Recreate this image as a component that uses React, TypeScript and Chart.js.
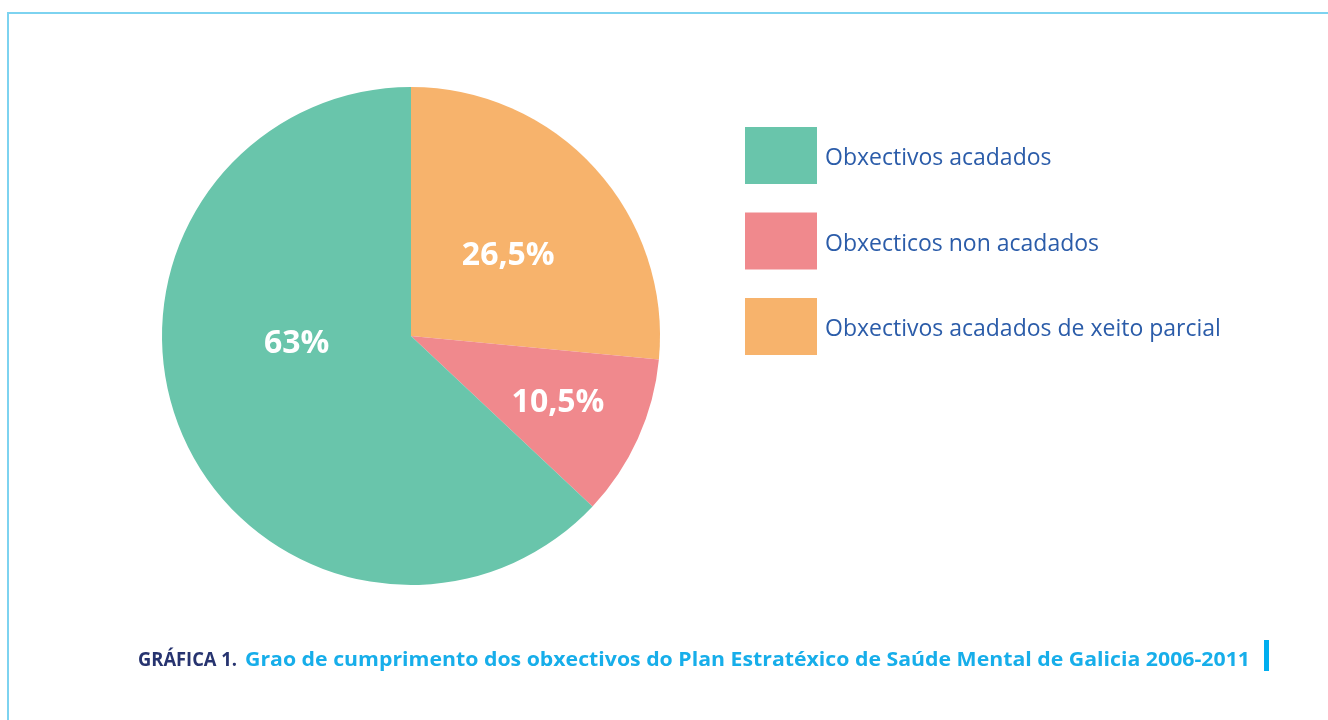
import React, { useEffect, useRef } from "react";
import { Chart, registerables } from "chart.js";

Chart.register(...registerables);

// Data (drawn clockwise from the top)
const categories = [
  "Obxectivos acadados de xeito parcial",
  "Obxecticos non acadados",
  "Obxectivos acadados",
];
const values = [26.5, 10.5, 63];
const valueLabels = ["26,5%", "10,5%", "63%"];
const sliceColors = ["#f7b36c", "#f0898d", "#69c5ab"];
// Legend shows the categories in reverse order
const legendOrder = [2, 1, 0];

const titlePrefix = "GRÁFICA 1.";
const titleText = "Grao de cumprimento dos obxectivos do Plan Estratéxico de Saúde Mental de Galicia 2006-2011";

const FONT = "'Open Sans', 'Noto Sans', sans-serif";

function fitText(ctx: any, text: string, left: number, right: number, baseline: number) {
  const w = ctx.measureText(text).width;
  ctx.save();
  ctx.translate(left, baseline);
  ctx.scale((right - left) / w, 1);
  ctx.fillText(text, 0, 0);
  ctx.restore();
}

const decorPlugin = {
  id: "decor",
  beforeDraw(chart: any) {
    const ctx = chart.ctx;
    ctx.save();
    ctx.fillStyle = "#ffffff";
    ctx.fillRect(0, 0, chart.width, chart.height);
    // frame
    ctx.strokeStyle = "#7dd3f0";
    ctx.lineWidth = 2;
    ctx.beginPath();
    ctx.moveTo(8, chart.height);
    ctx.lineTo(8, 13);
    ctx.lineTo(chart.width, 13);
    ctx.stroke();
    ctx.restore();
  },
  afterDraw(chart: any) {
    const ctx = chart.ctx;
    const meta = chart.getDatasetMeta(0);
    const opts = chart.options.plugins.decor;
    ctx.save();
    // slice labels
    ctx.fillStyle = "#ffffff";
    ctx.font = `bold 32px ${FONT}`;
    ctx.textAlign = "center";
    ctx.textBaseline = "middle";
    meta.data.forEach((arc: any, i: number) => {
      const { x, y, startAngle, endAngle, outerRadius } = arc.getProps(
        ["x", "y", "startAngle", "endAngle", "outerRadius"],
        true
      );
      const p = opts.labelPos[i];
      const a = (startAngle + endAngle) / 2 + p.da;
      const r = outerRadius * p.f;
      ctx.fillText(valueLabels[i], x + Math.cos(a) * r, y + Math.sin(a) * r + 2);
    });

    // legend
    const lg = opts.legend;
    ctx.font = `23px ${FONT}`;
    ctx.textAlign = "left";
    ctx.textBaseline = "middle";
    legendOrder.forEach((idx, row) => {
      const top = lg.top + row * lg.step;
      ctx.fillStyle = sliceColors[idx];
      ctx.fillRect(lg.left, top, lg.boxW, lg.boxH);
      ctx.fillStyle = "#2b5ca9";
      ctx.fillText(chart.data.labels[idx], lg.left + lg.boxW + 8, top + lg.boxH / 2 + 3);
    });

    // caption
    const t = opts.title;
    ctx.font = `bold 20px ${FONT}`;
    ctx.textAlign = "left";
    ctx.textBaseline = "alphabetic";
    ctx.fillStyle = "#26336f";
    fitText(ctx, titlePrefix, t.left, t.prefixRight, t.baseline);
    ctx.fillStyle = "#17aeea";
    fitText(ctx, titleText, t.textLeft, t.right, t.baseline);
    ctx.fillStyle = "#00aeef";
    ctx.fillRect(1264, 640, 5, 31);
    ctx.restore();
  },
};

export default function App() {
  const ref = useRef<HTMLCanvasElement>(null);
  useEffect(() => {
    const chart = new Chart(ref.current!, {
      type: "pie",
      data: {
        labels: categories,
        datasets: [
          {
            data: values,
            backgroundColor: sliceColors,
            borderWidth: 0,
          },
        ],
      },
      options: {
        animation: false,
        responsive: false,
        devicePixelRatio: 1,
        layout: { padding: { left: 162, top: 87, right: 668, bottom: 135 } },
        plugins: {
          legend: { display: false },
          tooltip: { enabled: false },
          decor: {
            labelPos: [
              { f: 0.51, da: 0.04 },
              { f: 0.645, da: -0.01 },
              { f: 0.46, da: 0.36 },
            ],
            legend: { left: 745, top: 127, step: 85.5, boxW: 72, boxH: 57 },
            title: { left: 138, prefixRight: 237, textLeft: 245, right: 1250, baseline: 666 },
          },
        } as any,
      },
      plugins: [decorPlugin],
    });
    return () => chart.destroy();
  }, []);
  return (
    <div style={{ position: "fixed", left: 0, top: 0, width: 1328, height: 720 }}>
      <canvas ref={ref} width={1328} height={720} style={{ display: "block" }} />
    </div>
  );
}
